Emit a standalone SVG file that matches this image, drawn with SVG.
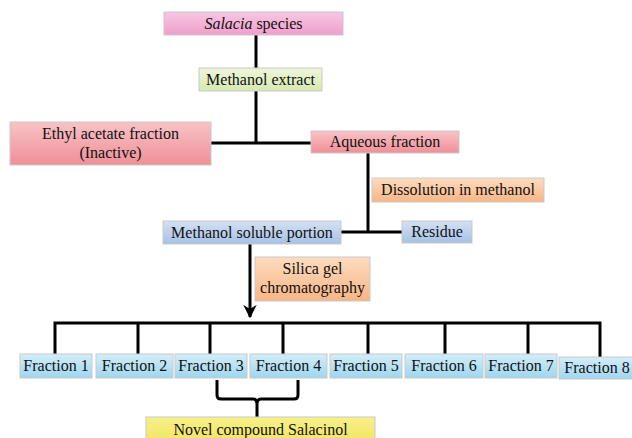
<svg xmlns="http://www.w3.org/2000/svg" width="632" height="438" viewBox="0 0 632 438">
<defs>
<linearGradient id="gPink" x1="0" y1="0" x2="0" y2="1"><stop offset="0" stop-color="#f8c6e2"/><stop offset="1" stop-color="#ee9fcb"/></linearGradient>
<linearGradient id="gGreen" x1="0" y1="0" x2="0" y2="1"><stop offset="0" stop-color="#eff6dc"/><stop offset="1" stop-color="#d6e8b0"/></linearGradient>
<linearGradient id="gRed" x1="0" y1="0" x2="0" y2="1"><stop offset="0" stop-color="#f9c3c6"/><stop offset="1" stop-color="#ee8f98"/></linearGradient>
<linearGradient id="gOrange" x1="0" y1="0" x2="0" y2="1"><stop offset="0" stop-color="#fddcc0"/><stop offset="1" stop-color="#f8b585"/></linearGradient>
<linearGradient id="gBlue" x1="0" y1="0" x2="0" y2="1"><stop offset="0" stop-color="#d3e1f3"/><stop offset="1" stop-color="#a6c1e6"/></linearGradient>
<linearGradient id="gCyan" x1="0" y1="0" x2="0" y2="1"><stop offset="0" stop-color="#d3eefa"/><stop offset="1" stop-color="#9ed6ee"/></linearGradient>
<linearGradient id="gYellow" x1="0" y1="0" x2="0" y2="1"><stop offset="0" stop-color="#f8f08a"/><stop offset="1" stop-color="#efe35a"/></linearGradient>
<marker id="arr" viewBox="0 0 10 10" refX="9" refY="5" markerWidth="4.5" markerHeight="4.5" orient="auto" markerUnits="strokeWidth"><path d="M0,0 L10,5 L0,10 L3,5 z" fill="#000"/></marker>
</defs>
<style>
.b{stroke:#c9c9c9;stroke-width:1}
.c{fill:none;stroke:#000;stroke-width:3}
</style>
<rect width="632" height="438" fill="#fff"/>
<g id="connectors">
<path class="c" d="M256,35 V68"/>
<path class="c" d="M256,91 V143"/>
<path class="c" d="M211,143 H311"/>
<path class="c" d="M368,153 V232"/>
<path class="c" d="M341,232 H402"/>
<path class="c" d="M250,244 V317" marker-end="url(#arr)"/>
<path class="c" d="M55,354 V323 H600 V357"/>
<path class="c" d="M138,323 V354 M210,323 V354 M283,323 V354 M368,323 V354 M445,323 V354 M528,323 V354"/>
<path class="c" stroke-width="2" d="M217,380 V395 Q217,399 221,399 H253 Q257,399 257,404 V418 M257,404 Q257,399 261,399 H294 Q298,399 298,395 V380"/>
</g>
<g id="salacia"><rect class="b" x="164" y="12" width="179" height="23" fill="url(#gPink)"/><text font-family="Liberation Serif" font-size="16" text-anchor="middle" fill="#111" x="253.5" y="29"><tspan font-style="italic">Salacia</tspan> species</text></g>
<g id="methanol-extract"><rect class="b" x="199" y="68" width="123" height="23" fill="url(#gGreen)"/><text font-family="Liberation Serif" font-size="16" text-anchor="middle" fill="#111" x="260.5" y="85">Methanol extract</text></g>
<g id="ethyl-acetate"><rect class="b" x="10" y="122" width="201" height="43" fill="url(#gRed)"/><text font-family="Liberation Serif" font-size="16" text-anchor="middle" fill="#111" x="110.5" y="139">Ethyl acetate fraction</text><text font-family="Liberation Serif" font-size="16" text-anchor="middle" fill="#111" x="110.5" y="158">(Inactive)</text></g>
<g id="aqueous"><rect class="b" x="311" y="131" width="148" height="22" fill="url(#gRed)"/><text font-family="Liberation Serif" font-size="16" text-anchor="middle" fill="#111" x="385" y="147">Aqueous fraction</text></g>
<g id="dissolution"><rect class="b" x="372" y="178" width="172" height="24" fill="url(#gOrange)"/><text font-family="Liberation Serif" font-size="16" text-anchor="middle" fill="#111" x="458" y="195">Dissolution in methanol</text></g>
<g id="methanol-soluble"><rect class="b" x="163" y="221" width="178" height="23" fill="url(#gBlue)"/><text font-family="Liberation Serif" font-size="16" text-anchor="middle" fill="#111" x="252" y="238">Methanol soluble portion</text></g>
<g id="residue"><rect class="b" x="402" y="221" width="70" height="22" fill="url(#gBlue)"/><text font-family="Liberation Serif" font-size="16" text-anchor="middle" fill="#111" x="437" y="237">Residue</text></g>
<g id="silica"><rect class="b" x="255" y="257" width="115" height="44" fill="url(#gOrange)"/><text font-family="Liberation Serif" font-size="16" text-anchor="middle" fill="#111" x="312.5" y="274">Silica gel</text><text font-family="Liberation Serif" font-size="16" text-anchor="middle" fill="#111" x="312.5" y="293">chromatography</text></g>
<g id="fraction1"><rect class="b" x="20" y="354" width="72" height="24" fill="url(#gCyan)"/><text font-family="Liberation Serif" font-size="16" text-anchor="middle" fill="#111" x="56" y="371">Fraction 1</text></g>
<g id="fraction2"><rect class="b" x="96" y="354" width="77" height="24" fill="url(#gCyan)"/><text font-family="Liberation Serif" font-size="16" text-anchor="middle" fill="#111" x="134.5" y="371">Fraction 2</text></g>
<g id="fraction3"><rect class="b" x="175" y="354" width="72" height="24" fill="url(#gCyan)"/><text font-family="Liberation Serif" font-size="16" text-anchor="middle" fill="#111" x="211" y="371">Fraction 3</text></g>
<g id="fraction4"><rect class="b" x="250" y="354" width="77" height="24" fill="url(#gCyan)"/><text font-family="Liberation Serif" font-size="16" text-anchor="middle" fill="#111" x="288.5" y="371">Fraction 4</text></g>
<g id="fraction5"><rect class="b" x="330" y="354" width="72" height="24" fill="url(#gCyan)"/><text font-family="Liberation Serif" font-size="16" text-anchor="middle" fill="#111" x="366" y="371">Fraction 5</text></g>
<g id="fraction6"><rect class="b" x="405" y="354" width="78" height="24" fill="url(#gCyan)"/><text font-family="Liberation Serif" font-size="16" text-anchor="middle" fill="#111" x="444" y="371">Fraction 6</text></g>
<g id="fraction7"><rect class="b" x="485" y="354" width="72" height="24" fill="url(#gCyan)"/><text font-family="Liberation Serif" font-size="16" text-anchor="middle" fill="#111" x="521" y="371">Fraction 7</text></g>
<g id="fraction8"><rect class="b" x="559" y="357" width="78" height="22" fill="url(#gCyan)"/><text font-family="Liberation Serif" font-size="16" text-anchor="middle" fill="#111" x="597" y="373">Fraction 8</text></g>
<g id="salacinol"><rect class="b" x="146" y="417" width="229" height="30" fill="url(#gYellow)"/><text font-family="Liberation Serif" font-size="16" text-anchor="middle" fill="#111" x="260.5" y="435">Novel compound Salacinol</text></g>
</svg>
